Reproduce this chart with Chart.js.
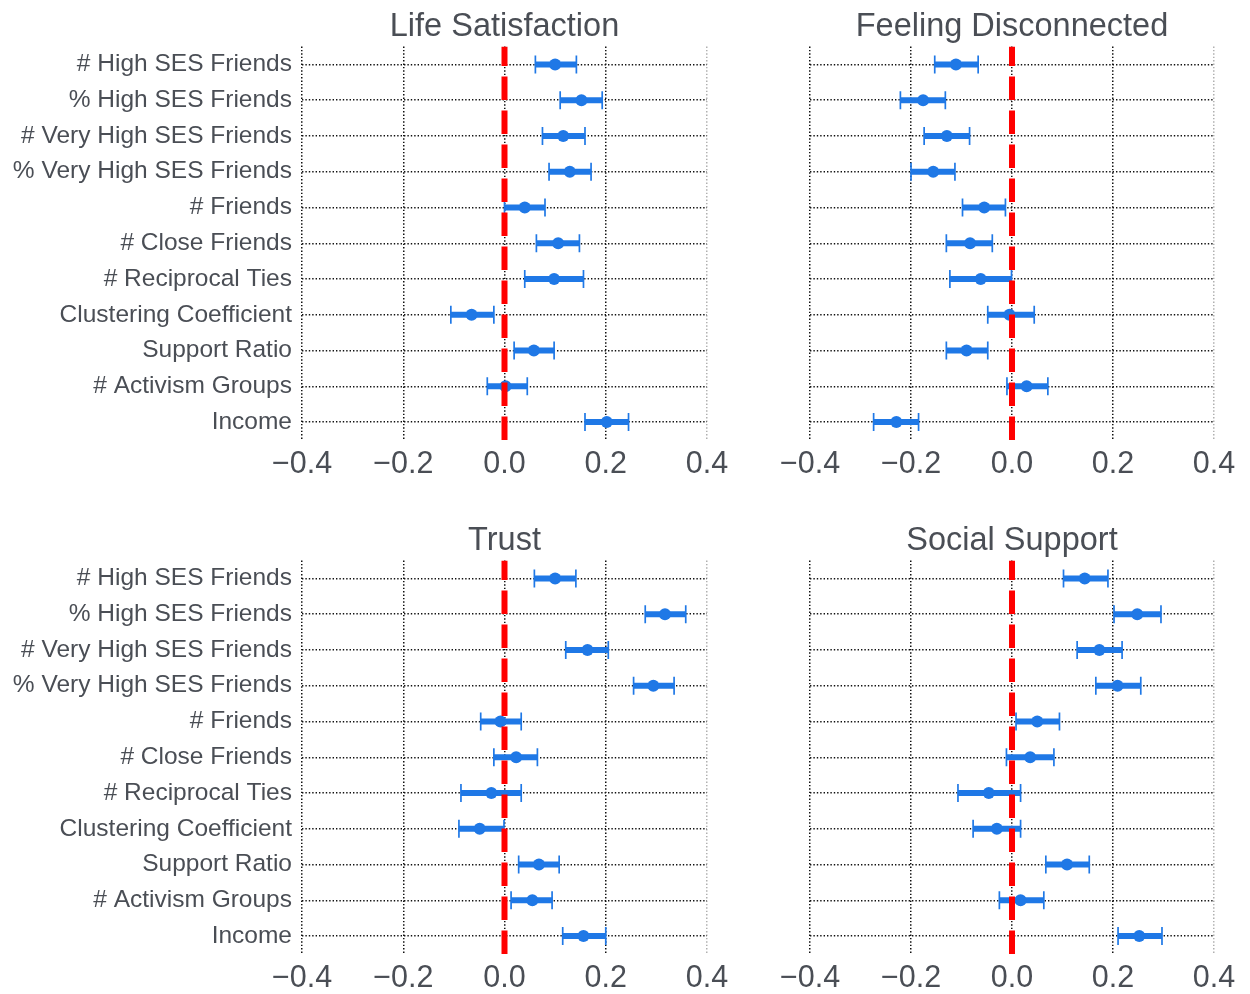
<!DOCTYPE html>
<html>
<head>
<meta charset="utf-8">
<script src="https://cdn.jsdelivr.net/npm/chart.js@4.4.1/dist/chart.umd.min.js"></script>
<style>
  html, body { margin: 0; padding: 0; background: #ffffff; }
  body { width: 1250px; height: 994px; position: relative; overflow: hidden; }
  canvas { position: absolute; }
</style>
</head>
<body>
<canvas id="c1" width="740" height="500" style="left:0px;top:0px;"></canvas>
<canvas id="c2" width="490" height="500" style="left:760px;top:0px;"></canvas>
<canvas id="c3" width="740" height="480" style="left:0px;top:514px;"></canvas>
<canvas id="c4" width="490" height="480" style="left:760px;top:514px;"></canvas>
<script>
// ---- data ----
const predictors = ['# High SES Friends', '% High SES Friends', '# Very High SES Friends', '% Very High SES Friends',
  '# Friends', '# Close Friends', '# Reciprocal Ties', 'Clustering Coefficient', 'Support Ratio',
  '# Activism Groups', 'Income'];
const xTicks = [-0.4, -0.2, 0.0, 0.2, 0.4];
const titles = ['Life Satisfaction', 'Feeling Disconnected', 'Trust', 'Social Support'];

const lifeSatEst = [0.100, 0.152, 0.116, 0.129, 0.040, 0.106, 0.098, -0.065, 0.058, 0.002, 0.202];
const lifeSatLo  = [0.061, 0.110, 0.075, 0.088, 0.000, 0.063, 0.040, -0.106, 0.019, -0.034, 0.159];
const lifeSatHi  = [0.142, 0.193, 0.159, 0.171, 0.080, 0.148, 0.156, -0.021, 0.098, 0.045, 0.245];

const disconnEst = [-0.111, -0.176, -0.129, -0.156, -0.055, -0.083, -0.062, -0.005, -0.090, 0.029, -0.229];
const disconnLo  = [-0.153, -0.221, -0.174, -0.200, -0.098, -0.130, -0.123, -0.048, -0.130, -0.010, -0.274];
const disconnHi  = [-0.067, -0.132, -0.084, -0.113, -0.013, -0.039, -0.001, 0.044, -0.048, 0.071, -0.185];

const trustEst = [0.100, 0.317, 0.164, 0.294, -0.008, 0.023, -0.026, -0.049, 0.068, 0.055, 0.156];
const trustLo  = [0.059, 0.278, 0.121, 0.255, -0.047, -0.021, -0.086, -0.090, 0.028, 0.013, 0.115];
const trustHi  = [0.141, 0.358, 0.205, 0.335, 0.033, 0.065, 0.033, -0.001, 0.108, 0.094, 0.200];

const supportEst = [0.144, 0.248, 0.173, 0.209, 0.050, 0.036, -0.046, -0.030, 0.109, 0.017, 0.252];
const supportLo  = [0.102, 0.202, 0.129, 0.166, 0.008, -0.011, -0.107, -0.077, 0.067, -0.025, 0.210];
const supportHi  = [0.190, 0.295, 0.218, 0.255, 0.094, 0.083, 0.017, 0.017, 0.153, 0.063, 0.297];

const referenceX = 0.0;

// ---- styling ----
const BLUE = '#1f78e6';
const TEXT = '#4a4e55';
const GRID = '#111111';
const FONT = "'Liberation Sans', Arial, sans-serif";
const DOTS = [1.4, 2.0];

const errorBarPlugin = {
  id: 'errorBars',
  beforeDatasetsDraw(chart, args, opts) {
    const { ctx, chartArea } = chart;
    const xs = chart.scales.x, ys = chart.scales.y;
    ctx.save();
    ctx.beginPath();
    ctx.rect(chartArea.left, chartArea.top, chartArea.right - chartArea.left, chartArea.bottom - chartArea.top);
    ctx.clip();
    opts.lo.forEach((lo, i) => {
      const hi = opts.hi[i];
      const y = ys.getPixelForValue(i);
      const x1 = xs.getPixelForValue(lo), x2 = xs.getPixelForValue(hi);
      ctx.strokeStyle = BLUE;
      ctx.lineCap = 'butt';
      ctx.lineWidth = 6;
      ctx.beginPath(); ctx.moveTo(x1, y); ctx.lineTo(x2, y); ctx.stroke();
      ctx.lineWidth = 1.7;
      ctx.beginPath();
      ctx.moveTo(x1, y - 9); ctx.lineTo(x1, y + 9);
      ctx.moveTo(x2, y - 9); ctx.lineTo(x2, y + 9);
      ctx.stroke();
    });
    ctx.restore();
  }
};

function fmtTick(v) {
  const r = Math.round(v * 10) / 10;
  const s = Math.abs(r).toFixed(1);
  return r < 0 ? '\u2212' + s : s;
}

function makePanel(id, title, est, lo, hi, showY, leftPad, rightPad, xAxisH) {
  const n = predictors.length;
  new Chart(document.getElementById(id), {
    type: 'scatter',
    data: {
      datasets: [
        {
          type: 'line',
          data: [{ x: referenceX, y: n - 0.5 }, { x: referenceX, y: -0.5 }],
          borderColor: '#ff0000',
          borderWidth: 6,
          borderDash: [23.5, 10.5],
          borderCapStyle: 'butt',
          pointRadius: 0,
          fill: false,
          order: 0
        },
        {
          data: est.map((v, i) => ({ x: v, y: i })),
          backgroundColor: BLUE,
          borderColor: BLUE,
          borderWidth: 0,
          pointRadius: 6,
          pointHoverRadius: 6,
          order: 1
        }
      ]
    },
    options: {
      responsive: false,
      animation: false,
      events: [],
      layout: { padding: { left: leftPad, right: rightPad, top: 0, bottom: 0 } },
      plugins: {
        legend: { display: false },
        tooltip: { enabled: false },
        title: {
          display: true,
          fullSize: false,
          text: title,
          color: TEXT,
          font: { family: FONT, size: 32.5, weight: 'normal', lineHeight: 1.2 },
          padding: { top: 7.5, bottom: 0 }
        },
        errorBars: { lo: lo, hi: hi }
      },
      scales: {
        x: {
          type: 'linear',
          min: xTicks[0],
          max: xTicks[xTicks.length - 1],
          afterBuildTicks: s => { s.ticks = xTicks.map(v => ({ value: v })); },
          afterFit: s => { s.height = xAxisH; },
          ticks: {
            color: TEXT,
            padding: 6,
            maxRotation: 0,
            autoSkip: false,
            font: { family: FONT, size: 30.5, lineHeight: 1.2 },
            callback: v => fmtTick(v)
          },
          grid: {
            drawTicks: false,
            lineWidth: 1.5,
            color: c => (c.tick && Math.abs(c.tick.value - 0.4) < 1e-6) ? '#b0b0b0' : GRID,
            borderDash: DOTS
          },
          border: { display: false, dash: DOTS }
        },
        y: {
          type: 'linear',
          reverse: true,
          min: -0.5,
          max: n - 0.5,
          afterBuildTicks: s => { s.ticks = predictors.map((_, i) => ({ value: i })); },
          afterFit: s => { s.width = showY ? 302 : 0; },
          ticks: {
            display: showY,
            color: TEXT,
            padding: 10,
            autoSkip: false,
            font: { family: FONT, size: 24.5, lineHeight: 1.2 },
            callback: v => predictors[v]
          },
          grid: {
            drawTicks: false,
            lineWidth: 1.5,
            color: GRID,
            borderDash: DOTS
          },
          border: { display: false, dash: DOTS }
        }
      }
    },
    plugins: [errorBarPlugin]
  });
}

makePanel('c1', titles[0], lifeSatEst, lifeSatLo, lifeSatHi, true, 0, 33, 60);
makePanel('c2', titles[1], disconnEst, disconnLo, disconnHi, false, 50, 36, 60);
makePanel('c3', titles[2], trustEst, trustLo, trustHi, true, 0, 33, 40);
makePanel('c4', titles[3], supportEst, supportLo, supportHi, false, 50, 36, 40);
</script>
</body>
</html>
